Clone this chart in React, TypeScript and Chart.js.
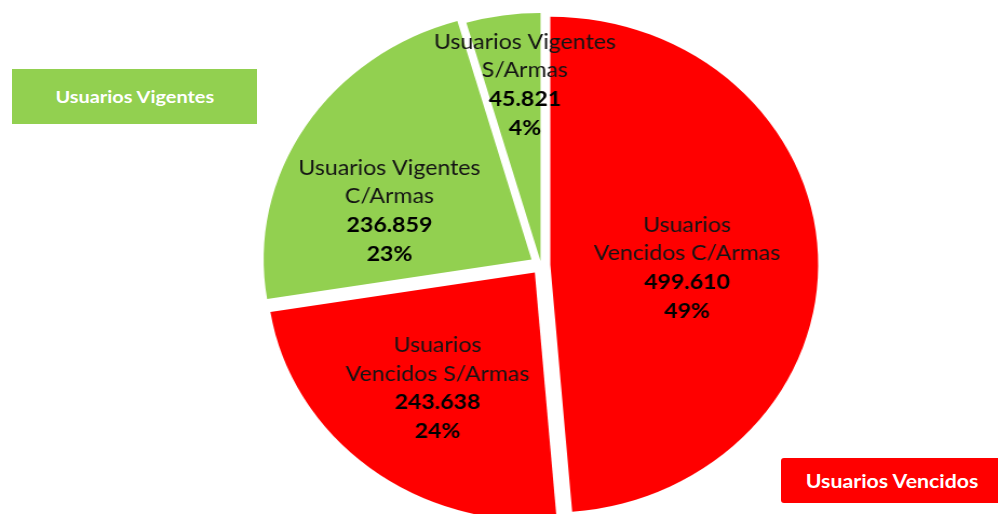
import React, { useEffect, useRef } from "react";
import { Chart, registerables } from "chart.js";

Chart.register(...registerables);

// ---- data ----
const categories = [
  "Usuarios Vencidos C/Armas",
  "Usuarios Vencidos S/Armas",
  "Usuarios Vigentes C/Armas",
  "Usuarios Vigentes S/Armas",
];
const nameLines = [
  ["Usuarios", "Vencidos C/Armas"],
  ["Usuarios", "Vencidos S/Armas"],
  ["Usuarios Vigentes", "C/Armas"],
  ["Usuarios Vigentes", "S/Armas"],
];
const values = [499610, 243638, 236859, 45821];
const legendLabels = ["Usuarios Vigentes", "Usuarios Vencidos"];

// ---- style ----
const sliceColors = ["#FF0000", "#FF0000", "#92D050", "#92D050"];
const GREEN = "#92D050";
const RED = "#FF0000";
const PAGE_W = 998;
const PAGE_H = 514;
const CANVAS_W = 924;
const STRETCH = PAGE_W / CANVAS_W;
const RADIUS = 248;
const EXPLODE = [8.5, 9.5, 10.5, 4];
const LABEL_POS = [
  { frac: 0.545, shift: 3.3 },
  { frac: 0.627, shift: 0 },
  { frac: 0.608, shift: -11 },
  { frac: 0.732, shift: 3.3 },
];
const LINE_H = 28.7;
const LABEL_FONT_SIZE = 21;
const TEXT_SCALE_X = 1.1;
const FONT_FAMILY = "Lato, 'Open Sans', sans-serif";

const fmt = (v: number) => String(v).replace(/\B(?=(\d{3})+(?!\d))/g, ".");

const explodePlugin = {
  id: "explodeSlices",
  beforeDatasetDraw(chart: any, args: any) {
    const ctx = chart.ctx;
    args.meta.data.forEach((arc: any, i: number) => {
      const { startAngle, endAngle } = arc.getProps(["startAngle", "endAngle"], true);
      const mid = (startAngle + endAngle) / 2;
      const d = EXPLODE[i] || 0;
      ctx.save();
      ctx.translate(Math.cos(mid) * d, Math.sin(mid) * d);
      arc.draw(ctx);
      ctx.restore();
    });
    return false;
  },
};

const labelPlugin = {
  id: "sliceLabels",
  afterDatasetsDraw(chart: any) {
    const ctx = chart.ctx;
    const meta = chart.getDatasetMeta(0);
    const total = values.reduce((a, b) => a + b, 0);
    meta.data.forEach((arc: any, i: number) => {
      const { x, y, startAngle, endAngle, outerRadius } = arc.getProps(
        ["x", "y", "startAngle", "endAngle", "outerRadius"],
        true
      );
      const mid = (startAngle + endAngle) / 2;
      const a = mid + (LABEL_POS[i].shift * Math.PI) / 180;
      const r = LABEL_POS[i].frac * outerRadius;
      const cx = x + Math.cos(a) * r;
      const cy = y + Math.sin(a) * r;
      const lines = [...nameLines[i], fmt(values[i]), Math.round((values[i] / total) * 100) + "%"];
      ctx.save();
      ctx.translate(cx, cy);
      ctx.scale(TEXT_SCALE_X / STRETCH, 1);
      ctx.textAlign = "center";
      ctx.textBaseline = "alphabetic";
      const capHalf = (LABEL_FONT_SIZE * 0.72) / 2;
      lines.forEach((t, j) => {
        const bold = j >= 2;
        ctx.font = `${bold ? "bold " : ""}${LABEL_FONT_SIZE}px ${FONT_FAMILY}`;
        ctx.fillStyle = bold ? "#000000" : "#141414";
        const capCenter = (j - 1.5) * LINE_H;
        ctx.fillText(t, 0, capCenter + capHalf);
      });
      ctx.restore();
    });
  },
};

export default function App() {
  const canvasRef = useRef<HTMLCanvasElement | null>(null);

  useEffect(() => {
    document.body.style.margin = "0";
    document.body.style.overflow = "hidden";
    const canvas = canvasRef.current;
    if (!canvas) return;
    const chart = new Chart(canvas, {
      type: "pie",
      data: {
        labels: categories,
        datasets: [
          {
            data: values,
            backgroundColor: sliceColors,
            borderWidth: 0,
            radius: RADIUS,
          } as any,
        ],
      },
      options: {
        responsive: true,
        maintainAspectRatio: false,
        animation: false,
        layout: { padding: { left: 78, right: 0, top: 16, bottom: 0 } },
        plugins: {
          legend: { display: false },
          tooltip: { enabled: false },
        },
      } as any,
      plugins: [explodePlugin, labelPlugin],
    });
    return () => chart.destroy();
  }, []);

  return (
    <div style={{ position: "relative", width: PAGE_W, height: PAGE_H, overflow: "hidden", background: "#fff" }}>
      <div
        style={{
          position: "absolute",
          left: 0,
          top: 0,
          width: CANVAS_W,
          height: PAGE_H,
          transform: `scaleX(${STRETCH})`,
          transformOrigin: "0 0",
        }}
      >
        <canvas ref={canvasRef} />
      </div>
      <div
        style={{
          position: "absolute",
          left: 12,
          top: 69,
          width: 245,
          height: 55,
          background: GREEN,
          color: "#fff",
          fontFamily: FONT_FAMILY,
          fontWeight: "bold",
          fontSize: 17,
          display: "flex",
          alignItems: "center",
          justifyContent: "center",
        }}
      >
        <span style={{ display: "inline-block", transform: "scaleX(1.17)" }}>{legendLabels[0]}</span>
      </div>
      <div
        style={{
          position: "absolute",
          left: 781,
          top: 458,
          width: 217,
          height: 45,
          background: RED,
          borderRadius: "3px 0 0 3px",
          color: "#fff",
          fontFamily: FONT_FAMILY,
          fontWeight: "bold",
          fontSize: 19,
          display: "flex",
          alignItems: "center",
          justifyContent: "center",
          paddingLeft: 6,
          boxSizing: "border-box",
        }}
      >
        <span style={{ display: "inline-block", transform: "scaleX(1.12)" }}>{legendLabels[1]}</span>
      </div>
    </div>
  );
}
